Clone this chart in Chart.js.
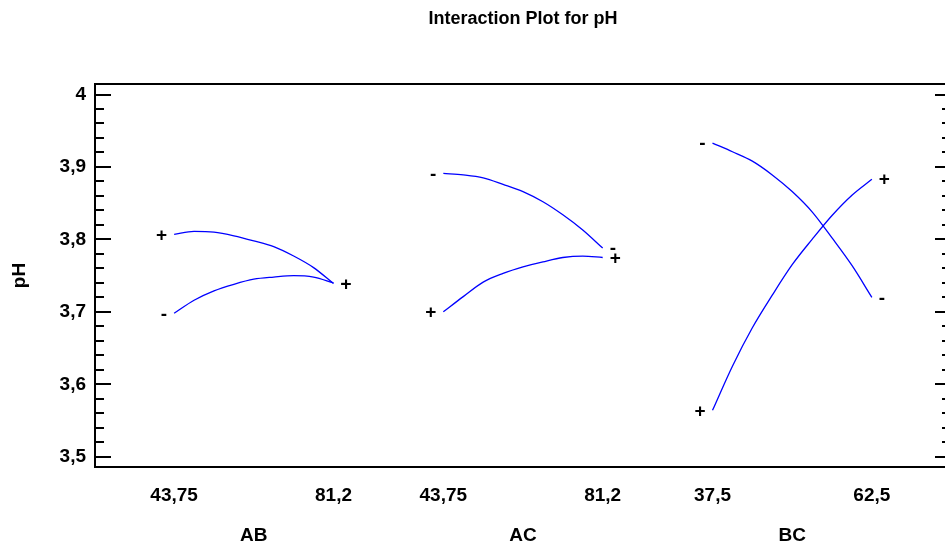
<!DOCTYPE html>
<html>
<head>
<meta charset="utf-8">
<title>Interaction Plot for pH</title>
<script src="https://cdn.jsdelivr.net/npm/chart.js@4.4.1/dist/chart.umd.min.js"></script>
<style>
  html, body { margin: 0; padding: 0; background: #fff; overflow: hidden; }
  #wrap { width: 960px; height: 550px; }
</style>
</head>
<body>
<div id="wrap"><canvas id="chart" width="960" height="550"></canvas></div>
<script>
// interaction pairs, with the low / high level of the first factor under each
const groups = ['AB', 'AC', 'BC'];
const levelLabels = ['43,75', '81,2', '43,75', '81,2', '37,5', '62,5'];

// y axis
const yMajor = [3.5, 3.6, 3.7, 3.8, 3.9, 4];
const yMajorLabels = ['3,5', '3,6', '3,7', '3,8', '3,9', '4'];

// predicted pH, 9 evenly spaced steps from the low to the high level
const abPlus  = [3.807, 3.811, 3.810, 3.805, 3.798, 3.790, 3.777, 3.761, 3.739];
const abMinus = [3.698, 3.716, 3.729, 3.738, 3.745, 3.748, 3.750, 3.748, 3.740];
const acPlus  = [3.700, 3.721, 3.741, 3.753, 3.762, 3.769, 3.775, 3.777, 3.775];
const acMinus = [3.891, 3.889, 3.885, 3.876, 3.866, 3.852, 3.834, 3.813, 3.788];
const bcPlus  = [3.564, 3.625, 3.678, 3.723, 3.765, 3.800, 3.833, 3.861, 3.883];
const bcMinus = [3.933, 3.921, 3.908, 3.889, 3.866, 3.838, 3.802, 3.764, 3.720];

const FONT = '"Liberation Sans", Arial, sans-serif';
const LEVEL_SPAN = 0.592;   // width of one low..high range in axis units

const series = [
  { group: 0, sign: '+', values: abPlus },
  { group: 0, sign: '-', values: abMinus },
  { group: 1, sign: '+', values: acPlus },
  { group: 1, sign: '-', values: acMinus },
  { group: 2, sign: '+', values: bcPlus },
  { group: 2, sign: '-', values: bcMinus }
];

const levelPos = [];
groups.forEach((g, i) => {
  levelPos.push(i + 1 - LEVEL_SPAN / 2, i + 1 + LEVEL_SPAN / 2);
});

const datasets = series.map(s => ({
  label: groups[s.group] + ' ' + s.sign,
  sign: s.sign,
  data: s.values.map((v, i) => ({
    x: s.group + 1 + (i / (s.values.length - 1) - 0.5) * LEVEL_SPAN,
    y: v
  })),
  borderColor: '#0000ff',
  borderWidth: 1.3,
  pointRadius: 0,
  cubicInterpolationMode: 'monotone',
  fill: false
}));

// box round the plot with inward ticks on both sides
const frame = {
  id: 'frame',
  afterDraw(chart) {
    const { ctx, chartArea: a } = chart;
    const y = chart.scales.y;
    ctx.save();
    ctx.strokeStyle = '#000';
    ctx.lineWidth = 2;
    ctx.strokeRect(a.left, a.top, a.right - a.left, a.bottom - a.top);
    for (let k = 0; k <= 25; k++) {
      const py = Math.round(y.getPixelForValue(3.5 + k * 0.02));
      const len = k % 5 === 0 ? 16 : 9;
      ctx.beginPath();
      ctx.moveTo(a.left, py); ctx.lineTo(a.left + len, py);
      ctx.moveTo(a.right, py); ctx.lineTo(a.right - len, py);
      ctx.stroke();
    }
    ctx.restore();
  }
};

// +/- tags at both ends of every curve, and the pair names under the axis
const tags = {
  id: 'tags',
  afterDatasetsDraw(chart) {
    const { ctx } = chart;
    const x = chart.scales.x;
    ctx.save();
    ctx.fillStyle = '#000';
    ctx.font = 'bold 19px ' + FONT;
    ctx.textBaseline = 'middle';
    chart.data.datasets.forEach((ds, i) => {
      const pts = chart.getDatasetMeta(i).data;
      const first = pts[0], last = pts[pts.length - 1];
      ctx.textAlign = 'right';
      ctx.fillText(ds.sign, first.x - 7, first.y + 1);
      ctx.textAlign = 'left';
      ctx.fillText(ds.sign, last.x + 7, last.y + 1);
    });
    ctx.textAlign = 'center';
    ctx.textBaseline = 'alphabetic';
    groups.forEach((g, i) => {
      ctx.fillText(g, x.getPixelForValue(i + 1), 541);
    });
    ctx.restore();
  }
};

const tickFont = { family: FONT, size: 19, weight: 'bold' };

new Chart(document.getElementById('chart'), {
  type: 'line',
  data: { datasets },
  plugins: [frame, tags],
  options: {
    responsive: false,
    animation: false,
    devicePixelRatio: 1,
    layout: { padding: { right: 9 } },
    plugins: {
      legend: { display: false },
      tooltip: { enabled: false },
      title: {
        display: true,
        text: 'Interaction Plot for pH',
        fullSize: false,
        color: '#000',
        font: { family: FONT, size: 18, weight: 'bold' },
        padding: { top: 8, bottom: 54.4 }
      }
    },
    scales: {
      x: {
        type: 'linear',
        min: 0.41,
        max: 3.59,
        grid: { display: false, drawTicks: false },
        border: { display: false },
        afterBuildTicks: s => { s.ticks = levelPos.map(v => ({ value: v })); },
        ticks: {
          color: '#000',
          font: tickFont,
          padding: 17,
          autoSkip: false,
          maxRotation: 0,
          callback: (v, i) => levelLabels[i]
        },
        afterFit: s => { s.height = 83; }
      },
      y: {
        min: 3.4858,
        max: 4.0145,
        grid: { display: false, drawTicks: false },
        border: { display: false },
        afterBuildTicks: s => { s.ticks = yMajor.map(v => ({ value: v })); },
        ticks: {
          color: '#000',
          font: tickFont,
          padding: 9,
          callback: (v, i) => yMajorLabels[i]
        },
        title: {
          display: true,
          text: 'pH',
          color: '#000',
          font: tickFont,
          padding: { top: 8 }
        },
        afterFit: s => { s.width = 95; }
      }
    }
  }
});
</script>
</body>
</html>
